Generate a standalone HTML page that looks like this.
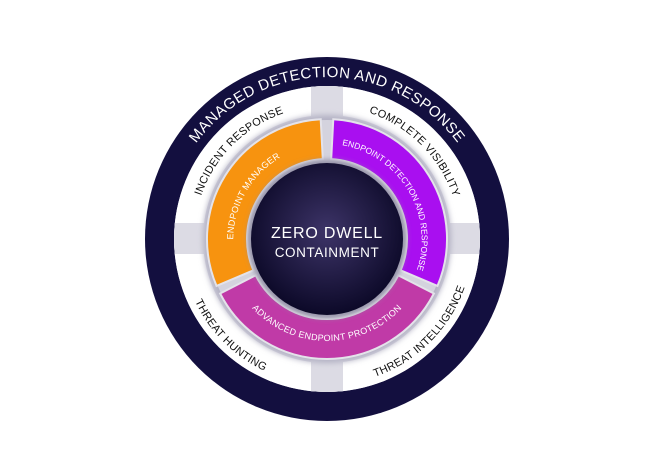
<!DOCTYPE html>
<html><head><meta charset="utf-8"><style>
html,body{margin:0;padding:0;background:#fff;}
svg{display:block;}
text{font-family:"Liberation Sans",sans-serif;}
</style></head><body>
<svg width="652" height="468" viewBox="0 0 652 468" xmlns="http://www.w3.org/2000/svg">
<defs>
<clipPath id="cl"><circle cx="327" cy="239" r="153"/></clipPath>
<radialGradient id="cg" cx="50%" cy="45%" r="55%">
<stop offset="0" stop-color="#3d3468"/><stop offset="1" stop-color="#0c0928"/></radialGradient>
<radialGradient id="gg" cx="50%" cy="50%" r="50%">
<stop offset="0.6" stop-color="#c4c2d2"/><stop offset="0.85" stop-color="#dddce6"/><stop offset="1" stop-color="#ebebf1"/></radialGradient>
<filter id="sh" x="-20%" y="-20%" width="140%" height="140%"><feGaussianBlur stdDeviation="3"/></filter>
<path id="t0" d="M165 239 A162 162 0 0 1 489 239"/>
<path id="t1" d="M198.5 273.4 A133 133 0 0 1 361.4 110.5"/>
<path id="t2" d="M292.6 110.5 A133 133 0 0 1 455.5 273.4"/>
<path id="t3" d="M186 201.2 A146 146 0 0 0 364.8 380"/>
<path id="t4" d="M289.2 380 A146 146 0 0 0 468 201.2"/>
<path id="r1" d="M279 322.1 A96 96 0 0 1 375 155.9"/>
<path id="r2" d="M277.6 156.7 A96 96 0 0 1 376.4 321.3"/>
<path id="r3" d="M225 239 A102 102 0 0 0 429 239"/>
</defs>
<circle cx="327" cy="239" r="182" fill="#130f3f"/>
<circle cx="327" cy="239" r="153" fill="url(#gg)"/>
<path fill="#fff" fill-rule="evenodd" d="M174 239 A153 153 0 1 0 480 239 A153 153 0 1 0 174 239 Z M203 239 A124 124 0 1 0 451 239 A124 124 0 1 0 203 239 Z"/>
<g clip-path="url(#cl)">
<rect x="311" y="80" width="32" height="320" fill="#dcdbe4"/>
<rect x="168" y="223" width="320" height="31" fill="#dcdbe4"/>
</g>
<circle cx="327" cy="239" r="124" fill="#b4b2c4" filter="url(#sh)"/>
<circle cx="327" cy="239" r="119" fill="#d4d3de"/>
<g stroke="#e4e3ea" stroke-width="2">
<path d="M216.5 285.9 A120 120 0 0 1 320.7 119.2 L322.8 159.1 A80 80 0 0 0 253.4 270.3 Z" fill="#f7930f"/>
<path d="M333.3 119.2 A120 120 0 0 1 437.5 285.9 L400.6 270.3 A80 80 0 0 0 331.2 159.1 Z" fill="#a90ff0"/>
<path d="M433.9 293.5 A120 120 0 0 1 220.1 293.5 L255.7 275.3 A80 80 0 0 0 398.3 275.3 Z" fill="#c03aa7"/>
</g>
<circle cx="327" cy="239" r="79" fill="#8f8ca3" filter="url(#sh)"/>
<circle cx="327" cy="239" r="76" fill="url(#cg)"/>
<text fill="#fff" font-size="15" letter-spacing="0.5"><textPath href="#t0" startOffset="50%" text-anchor="middle">MANAGED DETECTION AND RESPONSE</textPath></text>
<g fill="#111" font-size="11" letter-spacing="0.3">
<text><textPath href="#t1" startOffset="50%" text-anchor="middle">INCIDENT RESPONSE</textPath></text>
<text><textPath href="#t2" startOffset="50%" text-anchor="middle">COMPLETE VISIBILITY</textPath></text>
<text><textPath href="#t3" startOffset="50%" text-anchor="middle">THREAT HUNTING</textPath></text>
<text><textPath href="#t4" startOffset="50%" text-anchor="middle">THREAT INTELLIGENCE</textPath></text>
</g>
<g fill="#fff" font-size="9" letter-spacing="0.3">
<text><textPath href="#r1" startOffset="50%" text-anchor="middle">ENDPOINT MANAGER</textPath></text>
<text font-size="8.5" letter-spacing="0"><textPath href="#r2" startOffset="50%" text-anchor="middle">ENDPOINT DETECTION AND RESPONSE</textPath></text>
<text><textPath href="#r3" startOffset="50%" text-anchor="middle">ADVANCED ENDPOINT PROTECTION</textPath></text>
</g>
<text x="327" y="238" fill="#fff" font-size="16" text-anchor="middle" letter-spacing="0.8">ZERO DWELL</text>
<text x="327" y="257" fill="#fff" font-size="13.5" text-anchor="middle" letter-spacing="0.6">CONTAINMENT</text>
</svg>
</body></html>
